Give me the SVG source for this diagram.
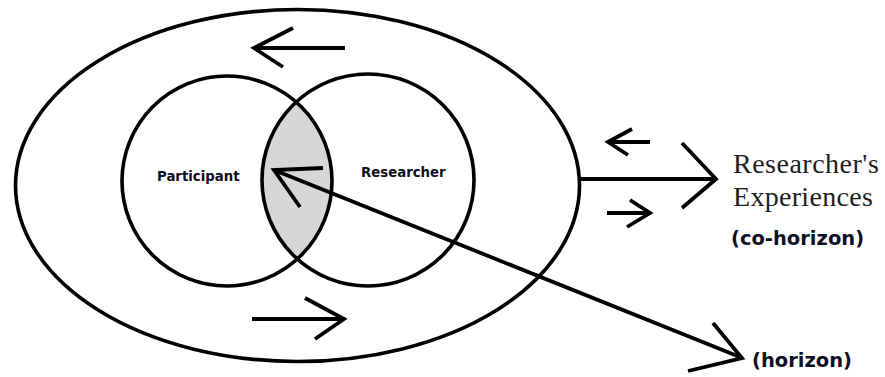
<svg xmlns="http://www.w3.org/2000/svg" width="885" height="377" viewBox="0 0 885 377">
<style>
.ln{fill:none;stroke:#000;stroke-width:3.8;stroke-linecap:butt;stroke-linejoin:miter}
.shape{fill:none;stroke:#000;stroke-width:3.6}
.lbl{font-family:"DejaVu Sans",Verdana,sans-serif;font-weight:bold;fill:#0e0e24}
.serif{font-family:"Liberation Serif","Times New Roman",serif;fill:#1e1e1e}
</style>
<rect width="885" height="377" fill="#fff"/>
<g id="horizon-ellipse">
<ellipse class="shape" cx="297.5" cy="185.5" rx="282" ry="176" stroke-width="3.3"/>
</g>
<g id="co-horizon-lens">
<path d="M296.7 102.5 A105 105 0 0 1 296.7 259.5 A106 106 0 0 1 296.7 102.5 Z" fill="#d6d6d6"/>
</g>
<g id="participant">
<circle class="shape" cx="227" cy="181" r="105"/>
<text class="lbl" x="157" y="181" font-size="13.3">Participant</text>
</g>
<g id="researcher">
<circle class="shape" cx="368" cy="180" r="106"/>
<text class="lbl" x="361" y="177" font-size="13.3">Researcher</text>
</g>
<g id="researchers-experiences">
<text class="serif" x="733" y="173" font-size="28" letter-spacing="0.5">Researcher's</text>
<text class="serif" x="733" y="206" font-size="28" letter-spacing="0.3">Experiences</text>
<text class="lbl" x="731" y="245" font-size="19.5">(co-horizon)</text>
</g>
<g id="horizon-label">
<text class="lbl" x="752" y="367" font-size="19.5">(horizon)</text>
</g>
<g id="connectors">
<line class="ln" x1="345" y1="48" x2="254" y2="48"/>
<polyline class="ln" points="293,28 254,48 283,67"/>
<line class="ln" x1="252" y1="319" x2="344" y2="319"/>
<polyline class="ln" points="305,298 344,319 315,339"/>
<line class="ln" x1="740" y1="357" x2="274" y2="170"/>
<polyline class="ln" points="323,168 274,170 300,207"/>
<polyline class="ln" points="713,323 742,358 688,371"/>
<line class="ln" x1="580" y1="179" x2="716" y2="179"/>
<polyline class="ln" points="682,143 716,179 682,208"/>
<line class="ln" x1="650" y1="142" x2="608" y2="142"/>
<polyline class="ln" points="632,129 608,142 628,155"/>
<line class="ln" x1="607" y1="213" x2="650" y2="213"/>
<polyline class="ln" points="630,200 650,213 627,227"/>
</g>
</svg>
